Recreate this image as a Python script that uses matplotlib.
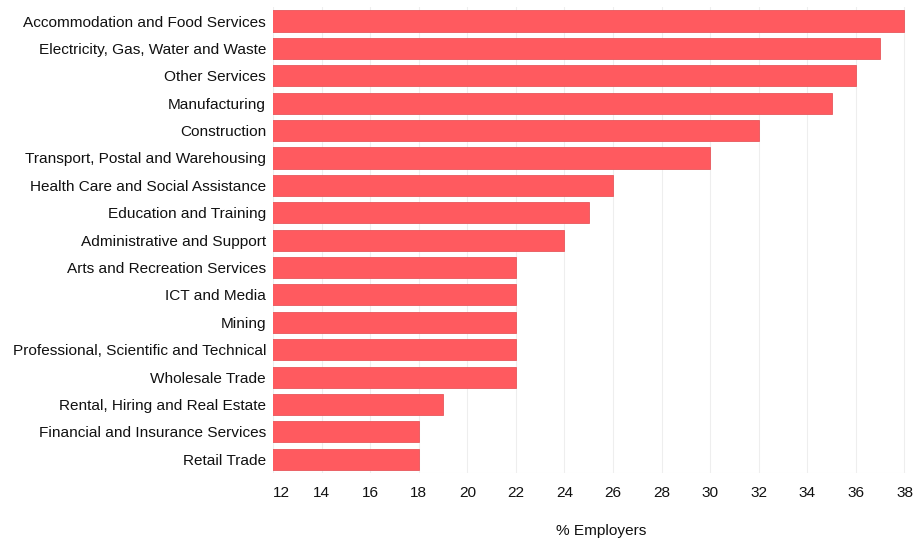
import matplotlib.pyplot as plt

plt.rcParams['font.family'] = ['Liberation Sans', 'DejaVu Sans']

industries = [
    "Accommodation and Food Services",
    "Electricity, Gas, Water and Waste",
    "Other Services",
    "Manufacturing",
    "Construction",
    "Transport, Postal and Warehousing",
    "Health Care and Social Assistance",
    "Education and Training",
    "Administrative and Support",
    "Arts and Recreation Services",
    "ICT and Media",
    "Mining",
    "Professional, Scientific and Technical",
    "Wholesale Trade",
    "Rental, Hiring and Real Estate",
    "Financial and Insurance Services",
    "Retail Trade",
]
pct_employers = [38, 37, 36, 35, 32, 30, 26, 25, 24, 22, 22, 22, 22, 22, 19, 18, 18]
x_ticks = list(range(12, 39, 2))

fig = plt.figure(figsize=(9.24, 5.38), dpi=100)
ax = fig.add_axes([0.2955, 0.1208, 0.686, 0.8656])

pos = list(range(len(industries)))
ax.barh(pos, pct_employers, height=0.77, color="#ff5a5f",
        edgecolor="#e8575b", linewidth=0.6, zorder=2)

ax.set_ylim(len(industries) - 0.5, -0.5)
ax.set_xlim(12, 38.1)
ax.set_yticks(pos)
ax.set_yticklabels(industries, fontsize=11.1, color="#111111")
ax.set_xticks(x_ticks)
ax.set_xticklabels([str(t) for t in x_ticks], fontsize=11.1, color="#111111")
ax.get_xticklabels()[0].set_horizontalalignment("left")

ax.tick_params(axis="both", length=0)
ax.tick_params(axis="x", pad=9)
ax.tick_params(axis="y", pad=5)
ax.grid(axis="x", color="#eeeeee", linewidth=0.8, zorder=0)
ax.axhline(len(industries) - 0.5, color="#eeeeee", linewidth=0.8, zorder=0)
for s in ax.spines.values():
    s.set_visible(False)

ax.set_xlabel("% Employers", fontsize=11.1, color="#111111")
ax.xaxis.set_label_coords(0.517, -0.11)

fig.savefig("out.png", dpi=100)
